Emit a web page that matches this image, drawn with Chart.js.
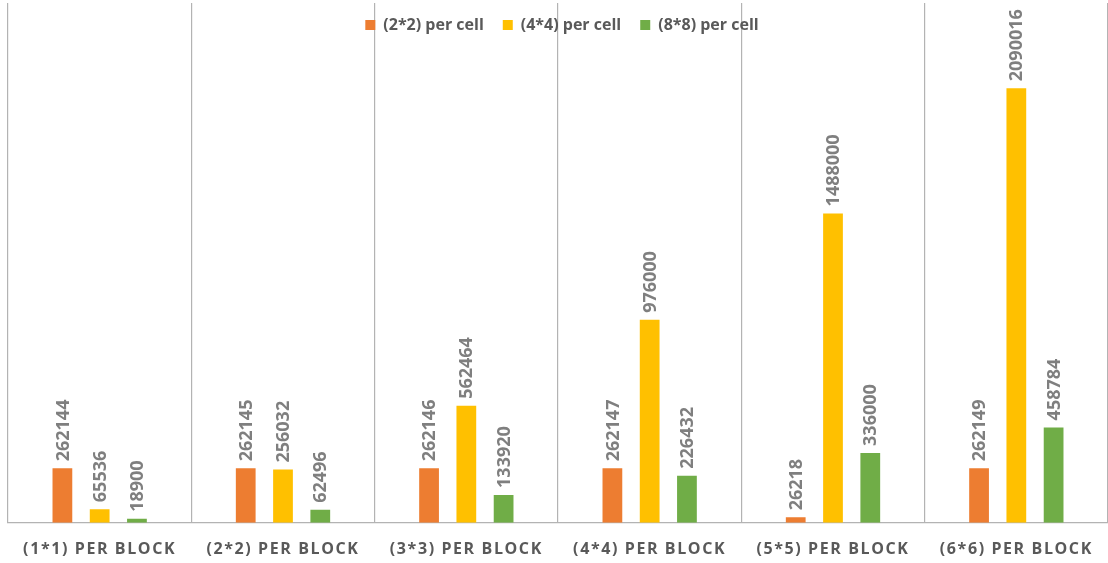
<!DOCTYPE html>
<html>
<head>
<meta charset="utf-8">
<script src="https://cdn.jsdelivr.net/npm/chart.js@4"></script>
<style>
  html, body { margin: 0; padding: 0; background: #fff; }
  #wrap { width: 1108px; height: 563px; }
</style>
</head>
<body>
<div id="wrap"><canvas id="myChart"></canvas></div>
<script>
// data
const categories = ['(1*1) PER BLOCK', '(2*2) PER BLOCK', '(3*3) PER BLOCK', '(4*4) PER BLOCK', '(5*5) PER BLOCK', '(6*6) PER BLOCK'];
const seriesNames = ['(2*2) per cell', '(4*4) per cell', '(8*8) per cell'];
const cell2 = [262144, 262145, 262146, 262147, 26218, 262149];
const cell4 = [65536, 256032, 562464, 976000, 1488000, 2090016];
const cell8 = [18900, 62496, 133920, 226432, 336000, 458784];
const colors = ['#ED7D31', '#FFC000', '#70AD47'];

// rotated value labels above each bar
const valueLabels = {
  id: 'valueLabels',
  afterDatasetsDraw(chart) {
    const ctx = chart.ctx;
    ctx.save();
    ctx.font = "bold 18px 'Open Sans'";
    ctx.fillStyle = '#7f7f7f';
    ctx.textAlign = 'left';
    ctx.textBaseline = 'middle';
    chart.data.datasets.forEach((ds, i) => {
      chart.getDatasetMeta(i).data.forEach((bar, j) => {
        ctx.save();
        ctx.translate(bar.x, bar.y - 7);
        ctx.rotate(-Math.PI / 2);
        ctx.fillText(String(ds.data[j]), 0, 1);
        ctx.restore();
      });
    });
    ctx.restore();
  }
};

// legend sits inside the plot, in one row; category labels spaced out
const tweaks = {
  id: 'tweaks',
  beforeLayout(chart) {
    if (chart.legend) chart.legend.isHorizontal = () => true;
  },
  afterLayout(chart) {
    const lg = chart.legend;
    if (lg) {
      lg.left += 12; lg.right += 12;
      lg.top -= 5; lg.bottom -= 5;
    }
    const s = chart.scales.x;
    if (!s || s._spaced) return;
    const orig = s.drawLabels.bind(s);
    s.drawLabels = function(area) {
      chart.ctx.save();
      chart.ctx.letterSpacing = '1.6px';
      orig(area);
      chart.ctx.restore();
    };
    s._spaced = true;
  }
};

const ctx = document.getElementById('myChart').getContext('2d');
new Chart(ctx, {
  type: 'bar',
  data: {
    labels: categories,
    datasets: [
      { label: seriesNames[0], data: cell2, backgroundColor: colors[0] },
      { label: seriesNames[1], data: cell4, backgroundColor: colors[1] },
      { label: seriesNames[2], data: cell8, backgroundColor: colors[2] }
    ]
  },
  options: {
    responsive: true,
    maintainAspectRatio: false,
    animation: false,
    layout: { padding: { left: 8, right: -2, top: 3, bottom: -13 } },
    datasets: { bar: { barPercentage: 0.53, categoryPercentage: 0.61 } },
    plugins: {
      legend: {
        position: 'chartArea',
        labels: {
          boxWidth: 10, boxHeight: 10, padding: 19,
          color: '#595959',
          font: { family: "'Open Sans'", size: 16, weight: 'bold' }
        }
      },
      tooltip: { enabled: false }
    },
    scales: {
      x: {
        grid: { offset: true, color: '#b3b3b3', lineWidth: 1.2, drawTicks: false },
        border: { color: '#b3b3b3', width: 1.2 },
        ticks: {
          padding: 17, color: '#595959', maxRotation: 0, autoSkip: false,
          font: { family: "'Open Sans'", size: 16, weight: 'bold' }
        }
      },
      y: { display: false, min: 0, max: 2500000 }
    }
  },
  plugins: [valueLabels, tweaks]
});
</script>
</body>
</html>
